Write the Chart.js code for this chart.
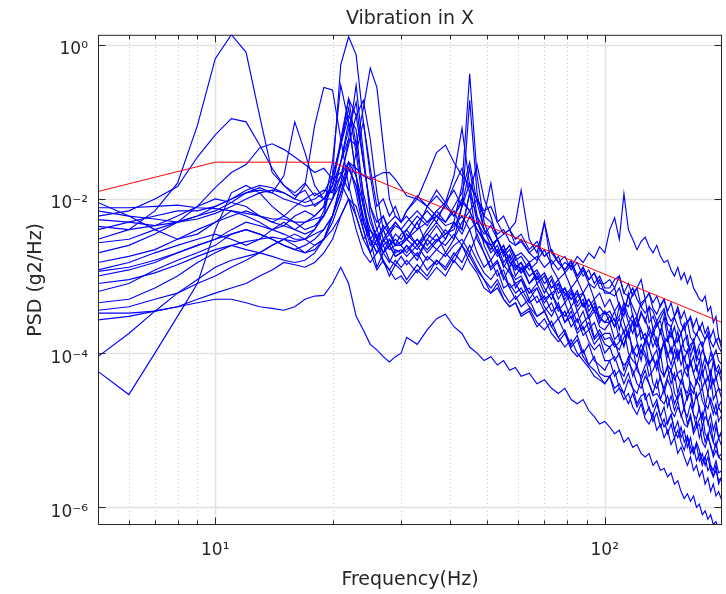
<!DOCTYPE html>
<html><head><meta charset="utf-8">
<script src="https://cdn.jsdelivr.net/npm/chart.js"></script>
<style>html,body{margin:0;padding:0;background:#fff;}canvas{display:block;}</style>
</head><body>
<canvas id="c" width="726" height="594"></canvas>
<script>
// Frequency grid (Hz)
const freqHz = [5,6,7,8,9,10,11,12,13,14,15,16,17,18,19,20,21,22,23,24,25,26,27,28,29,30,
31,33,35,37,39,41,43,45,47,49,51,53,55,57,59,
61,64,67,70,73,76,79,82,85,88,91,94,97,100,
103,106,109,112,115,118,121,124,127,130,133,136,139,142,145,148,151,154,157,160,163,166,169,172,175,178,181,184,187,190,193,196,200];

// PSD runs (g2/Hz)
const psd01 = [3e-3,4e-3,7e-3,1.6e-2,9e-2,0.66,1.35,0.8,0.12,2.2e-2,1.5e-2,1.2e-2,1.6e-2,1.1e-2,1.3e-2,1.2e-2,3e-2,0.1,2e-2,5e-3,3e-3,4e-3,6e-3,3.5e-3,4.5e-3,4e-3,
3e-3,5e-3,2.5e-3,3.5e-3,2e-3,3e-3,8e-3,2.5e-2,6e-3,2.5e-3,1.6e-3,2.2e-3,1.3e-3,1.8e-3,1e-3,
1.3e-3,8e-4,1e-3,6e-4,9e-4,5e-4,7e-4,4e-4,5.5e-4,6e-4,3.5e-4,4.5e-4,2.5e-4,3.5e-4,
3e-4,2.2e-4,4e-4,2.5e-4,1.6e-4,2.5e-4,3e-4,1.5e-4,1.8e-4,1.2e-4,2e-4,1.4e-4,9e-5,1.5e-4,1e-4,7e-5,1.1e-4,8e-5,1.2e-4,6e-5,5e-5,8e-5,5.5e-5,4e-5,6e-5,3.5e-5,4.5e-5,3e-5,5e-5,2.5e-5,3e-5,2e-5,2.5e-5];
const psd02 = [6e-3,7e-3,1e-2,1.45e-2,3.5e-2,6.8e-2,0.11,0.1,5e-2,2.5e-2,1.5e-2,1.1e-2,1.3e-2,8e-3,1e-2,1e-2,1.6e-2,6e-2,0.3,4e-2,6e-3,3e-3,2e-3,3e-3,2.5e-3,2.5e-3,
3.5e-3,2.5e-3,4e-3,6e-3,5e-3,7e-3,4e-3,1.2e-2,3e-3,2e-3,1.2e-3,1.5e-3,9e-4,1.3e-3,7e-4,
9e-4,5e-4,7e-4,4e-4,3e-4,4.5e-4,2.5e-4,3.5e-4,2e-4,2.5e-4,3e-4,1.6e-4,2e-4,1.5e-4,
1.6e-4,1.2e-4,1.4e-4,2e-4,1e-4,8e-5,7e-5,1.1e-4,9e-5,5e-5,6e-5,8e-5,4.5e-5,3.5e-5,5e-5,6e-5,3e-5,2.5e-5,3.5e-5,2e-5,2.8e-5,3e-5,1.6e-5,1.4e-5,2e-5,1.1e-5,1.5e-5,1.3e-5,9e-6,7e-6,1.1e-5,8e-6,9e-6];
const psd03 = [2e-3,2.5e-3,3.5e-3,5e-3,8e-3,1.4e-2,2.2e-2,2.8e-2,4.6e-2,5.2e-2,4.4e-2,3.5e-2,2.8e-2,2.2e-2,2.5e-2,1.8e-2,2.2e-2,1.3e-2,4e-2,0.1,2.5e-2,8e-3,1e-2,6e-3,8e-3,5e-3,
7e-3,1.1e-2,8e-3,1.3e-2,9e-3,6e-3,1e-2,7e-3,4e-3,3e-3,2.2e-3,3e-3,2e-3,2.5e-3,1.6e-3,
1.8e-3,1.2e-3,1.5e-3,5e-3,1.3e-3,9e-4,1.1e-3,7e-4,9e-4,6e-4,8e-4,5e-4,6e-4,4e-4,
5e-4,3.5e-4,4.5e-4,3e-4,6e-4,3e-4,2.2e-4,3.5e-4,2.5e-4,4e-4,2e-4,2.6e-4,1.8e-4,3e-4,1.5e-4,2.2e-4,1.3e-4,1.9e-4,1.1e-4,1.5e-4,1.7e-4,9e-5,1.2e-4,8e-5,1.1e-4,6.5e-5,9e-5,7e-5,5e-5,8e-5,4.5e-5,6e-5,4e-5];
const psd04 = [9e-3,6e-3,4e-3,3e-3,3.5e-3,5e-3,7e-3,6e-3,5e-3,4e-3,4.5e-3,6e-3,7e-3,6e-3,8e-3,1.5e-2,5e-2,0.15,4e-2,8e-3,3e-3,1.3e-3,2e-3,2.5e-3,1.8e-3,2e-3,
2.5e-3,1.6e-3,3e-3,2.2e-3,3e-3,5e-3,4e-3,1.2e-2,2.8e-2,1e-2,6e-3,3e-3,2e-3,1.3e-3,1.8e-3,
1.1e-3,1.5e-3,8e-4,1e-3,6e-4,7e-4,5e-4,6.5e-4,4e-4,5e-4,3e-4,4e-4,2.8e-4,2.5e-4,
2.5e-4,2.8e-4,1.5e-4,1.3e-4,2e-4,2.6e-4,1.4e-4,1e-4,1.5e-4,1.2e-4,8e-5,7e-5,1.1e-4,1.3e-4,7e-5,6e-5,8e-5,5e-5,4e-5,6e-5,7e-5,3.5e-5,3e-5,4.5e-5,3.8e-5,2.4e-5,2e-5,3e-5,2.2e-5,1.6e-5,2.2e-5,1.3e-5,1.6e-5];
const psd05 = [7.7e-3,7.7e-3,8e-3,8.3e-3,7.7e-3,7.5e-3,7e-3,6.5e-3,6e-3,5.5e-3,5.5e-3,5e-3,5e-3,5.5e-3,6e-3,2e-2,0.55,1.27,0.74,0.1,2e-2,6e-3,3e-3,4e-3,2.5e-3,3.5e-3,
4e-3,6e-3,4.5e-3,7e-3,5e-3,8e-3,1.2e-2,3e-2,9e-3,4e-3,3e-3,2e-3,2.5e-3,1.5e-3,1.2e-3,
1.5e-3,8e-4,1.1e-3,7e-4,5e-4,8e-4,4.5e-4,6e-4,3.5e-4,4.5e-4,2.8e-4,3.5e-4,2.2e-4,2e-4,
2.5e-4,1.5e-4,1.8e-4,1.2e-4,2e-4,1e-4,1.3e-4,8e-5,1.5e-4,7e-5,9e-5,6e-5,1e-4,5e-5,6.5e-5,4e-5,5.5e-5,3e-5,4.5e-5,3.5e-5,2.5e-5,3.5e-5,2e-5,3e-5,1.8e-5,1.4e-5,2e-5,1.2e-5,1.6e-5,1e-5,1.3e-5,8e-6,1e-5];
const psd06 = [5.4e-3,5e-3,4.5e-3,5e-3,6e-3,8e-3,1e-2,1.3e-2,1.5e-2,1.4e-2,1.2e-2,1e-2,1.5e-2,9e-2,0.28,0.26,6e-2,1.5e-2,6e-3,3e-3,4e-3,2.5e-3,4e-3,5e-3,6e-3,5e-3,
7e-3,1e-2,8e-3,6e-3,4.5e-3,5e-3,3.5e-3,6e-3,4e-3,2.8e-3,2.5e-3,1.8e-3,2.2e-3,1.2e-3,9e-4,
1e-3,6e-4,8e-4,5e-4,6e-4,3.5e-4,4.5e-4,2.8e-4,3.5e-4,2e-4,2.5e-4,1.5e-4,1.8e-4,1.3e-4,
1.2e-4,1.4e-4,9e-5,7e-5,8e-5,1.2e-4,6e-5,5e-5,7e-5,8e-5,4e-5,3.5e-5,5e-5,3e-5,4.5e-5,3.5e-5,2.2e-5,2.8e-5,3e-5,1.8e-5,1.5e-5,2.2e-5,1.6e-5,1.1e-5,1.4e-5,1.7e-5,9e-6,8e-6,1.2e-5,7e-6,6e-6,8e-6,6e-6];
const psd07 = [4.4e-3,4e-3,4.5e-3,6e-3,8e-3,1e-2,9e-3,8e-3,6e-3,5e-3,4.5e-3,4e-3,5e-3,6e-3,8e-3,3e-2,0.3,0.1,2e-2,5e-3,3e-3,2.5e-3,1.5e-3,1.2e-3,1.6e-3,1.3e-3,
1.6e-3,1.1e-3,1.8e-3,1.4e-3,2e-3,1.5e-3,2.5e-3,1.8e-3,1.2e-3,9e-4,7e-4,9e-4,6e-4,4.5e-4,5.5e-4,
4e-4,5e-4,3e-4,3.5e-4,2.2e-4,2.8e-4,1.8e-4,1.3e-4,1.7e-4,1e-4,1.3e-4,8e-5,7e-5,6e-5,
8e-5,5e-5,6e-5,4e-5,5.5e-5,3.5e-5,3e-5,4.5e-5,2.5e-5,3e-5,2e-5,2.5e-5,1.5e-5,2e-5,1.2e-5,1.6e-5,1e-5,1.3e-5,8e-6,1e-5,6e-6,8e-6,5e-6,6.5e-6,4e-6,5e-6,3.5e-6,4.5e-6,3e-6,2.5e-6,3.5e-6,2e-6,2.5e-6];
const psd08 = [2.7e-3,3e-3,4e-3,5e-3,6e-3,7e-3,9e-3,1.2e-2,1.4e-2,1.2e-2,2e-2,0.1,4e-2,1.5e-2,1e-2,1.5e-2,6e-2,0.2,5e-2,1.2e-2,5e-3,3e-3,4.5e-3,3.5e-3,5e-3,4e-3,
3e-3,5e-3,7e-3,5e-3,9e-3,1.3e-2,8e-3,1.6e-2,1e-2,6e-3,5e-3,3.5e-3,4e-3,2.8e-3,2.5e-3,
3e-3,2e-3,1.6e-3,2.2e-3,1.4e-3,1.8e-3,1.1e-3,1.4e-3,9e-4,1.2e-3,8e-4,7e-4,9e-4,6e-4,
6e-4,7e-4,4e-4,3.5e-4,5.5e-4,4e-4,3e-4,4.5e-4,5e-4,2.5e-4,3e-4,2.2e-4,2.8e-4,3.5e-4,2e-4,1.6e-4,2.2e-4,1.4e-4,1.8e-4,2.4e-4,1.3e-4,1.1e-4,1.5e-4,1e-4,1.3e-4,1.4e-4,8e-5,7e-5,1e-4,8e-5,6e-5,7e-5,5e-5];
const psd09 = [1.5e-3,1.8e-3,2.2e-3,3e-3,4e-3,5e-3,6e-3,7e-3,6e-3,5e-3,6e-3,8e-3,1e-2,1.2e-2,1e-2,1.5e-2,3e-2,6e-2,5e-2,0.15,0.5,0.28,5e-2,1e-2,6e-3,5e-3,
6e-3,4e-3,8e-3,1.1e-2,8e-3,1.5e-2,2.5e-2,1.2e-2,6e-3,4e-3,3e-3,2e-3,2.5e-3,1.5e-3,1.3e-3,
1.1e-3,1.4e-3,9e-4,1.1e-3,7e-4,9e-4,5.5e-4,7e-4,4.5e-4,6e-4,4e-4,5e-4,3e-4,3.5e-4,
2.5e-4,3.5e-4,2e-4,4e-4,2.5e-4,1.8e-4,2.8e-4,2e-4,1.4e-4,2.2e-4,1.6e-4,1.2e-4,2e-4,1.3e-4,1.6e-4,1e-4,1.4e-4,9e-5,1.2e-4,8e-5,1.1e-4,7e-5,9e-5,6e-5,8e-5,5e-5,7e-5,4.5e-5,6e-5,4e-5,5e-5,3.5e-5,3.2e-5];
const psd10 = [1.2e-3,1.5e-3,2e-3,2.5e-3,3e-3,3.5e-3,3e-3,2.5e-3,3e-3,4e-3,5e-3,4e-3,3.5e-3,4e-3,6e-3,1e-2,2e-2,5e-2,0.12,0.19,6e-2,1.2e-2,4e-3,2.5e-3,3e-3,2.5e-3,
2e-3,3e-3,2.2e-3,3e-3,2.5e-3,3.5e-3,2.5e-3,4e-3,2e-3,1.3e-3,1.6e-3,1e-3,1.2e-3,7e-4,5e-4,
6e-4,4e-4,3e-4,3.5e-4,2.2e-4,1.6e-4,2e-4,1.2e-4,1.5e-4,9e-5,7e-5,9e-5,5.5e-5,5e-5,
5e-5,6e-5,3.5e-5,3e-5,4.5e-5,3.5e-5,2.2e-5,2.8e-5,3e-5,1.8e-5,1.6e-5,2.2e-5,1.5e-5,1.1e-5,1.3e-5,1.6e-5,1e-5,8e-6,1.1e-5,7e-6,8.5e-6,6e-6,5e-6,7e-6,5.5e-6,4e-6,4.5e-6,5.5e-6,3.5e-6,3e-6,4e-6,2.8e-6,3e-6];
const psd11 = [1.15e-3,1.3e-3,1.6e-3,2e-3,2.5e-3,3e-3,4e-3,5e-3,4.5e-3,4e-3,3.5e-3,3e-3,3e-3,4e-3,7e-3,2e-2,5e-2,0.12,8e-2,1e-2,3e-3,2e-3,2.5e-3,1.6e-3,1.4e-3,1.8e-3,
1.4e-3,2e-3,1.2e-3,1.6e-3,1.3e-3,2e-3,1.5e-3,2.5e-3,1.6e-3,1.1e-3,9e-4,1.2e-3,7e-4,8e-4,6e-4,
7e-4,4.5e-4,5.5e-4,3.5e-4,4.5e-4,2.8e-4,3.5e-4,2.2e-4,2.8e-4,1.7e-4,2e-4,1.3e-4,1.6e-4,1e-4,
1.2e-4,8e-5,1e-4,6e-5,9e-5,5e-5,7e-5,4.5e-5,6e-5,4e-5,3e-5,4.5e-5,2.5e-5,3.5e-5,2e-5,2.8e-5,1.8e-5,2.4e-5,1.5e-5,2e-5,1.2e-5,1.6e-5,1e-5,1.3e-5,8e-6,1.1e-5,7e-6,9e-6,6e-6,5e-6,7e-6,4.5e-6,5e-6];
const psd12 = [6.3e-4,8e-4,1.2e-3,1.6e-3,2e-3,2.5e-3,3.5e-3,4e-3,3.5e-3,3e-3,2.5e-3,2.2e-3,2.5e-3,3e-3,4e-3,6e-3,1.2e-2,3e-2,2e-2,8e-3,4e-3,3e-3,2e-3,2.5e-3,1.8e-3,2e-3,
2.5e-3,1.8e-3,3e-3,4.5e-3,3e-3,5e-3,1.5e-2,0.42,2e-2,5e-3,3e-3,2e-3,1.4e-3,1.1e-3,8e-4,
9e-4,6e-4,7e-4,4.5e-4,6e-4,4e-4,3e-4,4e-4,2.5e-4,3.5e-4,2e-4,2.5e-4,1.6e-4,1.8e-4,
1.8e-4,1.3e-4,1.1e-4,1.6e-4,1.9e-4,1.1e-4,9e-5,1.3e-4,1e-4,7e-5,9e-5,1.1e-4,6e-5,5e-5,7e-5,6e-5,4.5e-5,5.5e-5,6e-5,3.5e-5,3e-5,4.2e-5,3.5e-5,2.6e-5,3e-5,3.5e-5,2.2e-5,1.9e-5,2.6e-5,2e-5,1.6e-5,2e-5,1.6e-5];
const psd13 = [4.5e-4,5e-4,7e-4,1e-3,1.5e-3,2e-3,2.5e-3,2.2e-3,2e-3,2.5e-3,3e-3,3.5e-3,3e-3,2.5e-3,3e-3,5e-3,1e-2,2.5e-2,1.5e-2,5e-3,2.5e-3,3.5e-3,2e-3,1.5e-3,2.2e-3,2e-3,
2.2e-3,3e-3,2e-3,2.8e-3,3.5e-3,4e-3,8e-3,0.19,1.2e-2,4e-3,2.5e-3,3e-3,1.8e-3,2.2e-3,1.4e-3,
1.2e-3,1.5e-3,9e-4,1.1e-3,7e-4,8e-4,6e-4,5e-4,6.5e-4,4e-4,5e-4,3.5e-4,3e-4,2.5e-4,
3e-4,2.2e-4,2.8e-4,1.8e-4,2.4e-4,3.2e-4,1.6e-4,2e-4,1.4e-4,1.8e-4,1.2e-4,1.6e-4,1e-4,1.4e-4,9e-5,1.2e-4,8e-5,1.1e-4,7e-5,9e-5,6e-5,8e-5,5.5e-5,7e-5,4.5e-5,6e-5,4e-5,5e-5,3.5e-5,4.5e-5,3e-5,3.5e-5,2.5e-5];
const psd14 = [3.6e-4,4e-4,5e-4,6e-4,8e-4,1e-3,1.3e-3,1.6e-3,2e-3,2.5e-3,3e-3,2.5e-3,2e-3,2.2e-3,3e-3,6e-3,1.6e-2,1e-2,4e-3,2e-3,1.5e-3,2e-3,2.8e-3,3.5e-3,2.5e-3,2.5e-3,
3e-3,4e-3,5e-3,7e-3,9e-3,2e-2,8.3e-2,1.5e-2,5e-3,3e-3,2e-3,2.5e-3,1.5e-3,1.9e-3,1.3e-3,
1.5e-3,1e-3,1.2e-3,8e-4,1e-3,6e-4,7e-4,5e-4,6e-4,4e-4,5e-4,3.5e-4,4e-4,3.2e-4,
3.5e-4,2.6e-4,3e-4,4.5e-4,3e-4,2.5e-4,2.2e-4,3.2e-4,2.8e-4,1.9e-4,1.7e-4,2.4e-4,2.6e-4,1.6e-4,1.4e-4,1.9e-4,1.3e-4,1.5e-4,1.8e-4,1.1e-4,1e-4,1.3e-4,1.4e-4,9e-5,8e-5,1.1e-4,9e-5,7e-5,8e-5,9e-5,6e-5,5.5e-5,5.5e-5];
const psd15 = [3.3e-4,3.3e-4,3.5e-4,4e-4,5e-4,6e-4,7e-4,8e-4,1e-3,1.2e-3,1.5e-3,1.4e-3,1.3e-3,1.5e-3,2e-3,3e-3,6e-3,1e-2,6e-3,3e-3,2e-3,3e-3,1.6e-3,1.2e-3,9e-4,1e-3,
8e-4,1.2e-3,9e-4,1.3e-3,1e-3,1.6e-3,1.2e-3,2e-3,1.3e-3,9e-4,6e-4,7e-4,5e-4,4e-4,4.5e-4,
3.2e-4,3.8e-4,2.5e-4,2e-4,2.6e-4,1.6e-4,1.2e-4,1.5e-4,1e-4,8e-5,6.5e-5,5e-5,4.5e-5,4e-5,
5e-5,3.5e-5,4e-5,3e-5,2.2e-5,3e-5,2e-5,2.5e-5,1.6e-5,2e-5,1.3e-5,1.7e-5,1.1e-5,1.4e-5,9e-6,1.2e-5,8e-6,1e-5,7e-6,5.5e-6,8e-6,5e-6,6e-6,4e-6,5e-6,3.5e-6,4.5e-6,3e-6,3.5e-6,2.5e-6,3e-6,2.2e-6,2.5e-6];
const psd16 = [2.7e-4,3e-4,3.5e-4,4e-4,4.5e-4,5e-4,5e-4,4.5e-4,4e-4,3.8e-4,3.6e-4,4e-4,5e-4,5.5e-4,5.6e-4,8e-4,1.3e-3,8e-4,3e-4,2e-4,1.3e-4,1.1e-4,9e-5,7.7e-5,9e-5,1e-4,
1.6e-4,1.3e-4,2e-4,2.8e-4,3.2e-4,2.2e-4,1.8e-4,1.2e-4,1e-4,8e-5,9e-5,7e-5,8e-5,6e-5,6.5e-5,
5e-5,5.5e-5,4e-5,4.5e-5,3.5e-5,3e-5,3.5e-5,2.5e-5,2.2e-5,2.5e-5,1.8e-5,1.5e-5,1.2e-5,1.3e-5,
1.1e-5,9e-6,1e-5,7e-6,8e-6,6e-6,6.5e-6,5e-6,4.5e-6,5e-6,3.5e-6,4e-6,3e-6,3.2e-6,2.5e-6,2.8e-6,2e-6,2.2e-6,1.6e-6,1.3e-6,1.5e-6,1.2e-6,1.4e-6,1e-6,1.1e-6,8e-7,9e-7,7e-7,8e-7,6e-7,6.5e-7,5e-7,5e-7];
const psd17 = [9e-5,1.8e-4,3.5e-4,6e-4,9e-4,1.3e-3,1.6e-3,1.8e-3,2e-3,1.8e-3,1.6e-3,1.5e-3,1.6e-3,2e-3,3e-3,6e-3,1.5e-2,3e-2,1.2e-2,4e-3,2e-3,1.2e-3,1.6e-3,1e-3,1.4e-3,1.2e-3,
9e-4,1.4e-3,1e-3,1.6e-3,1.2e-3,1.8e-3,2.5e-3,1.5e-3,1.1e-3,7e-4,6e-4,8e-4,5e-4,4e-4,4.5e-4,
3e-4,3.5e-4,2.2e-4,2.8e-4,1.8e-4,1.4e-4,1.8e-4,1.1e-4,9e-5,1.1e-4,7e-5,6e-5,5e-5,4e-5,
5e-5,3e-5,3.5e-5,2.5e-5,3e-5,2e-5,1.6e-5,2.2e-5,1.4e-5,1.2e-5,1.6e-5,1e-5,1.2e-5,8e-6,1e-5,6.5e-6,8e-6,5e-6,6e-6,4.5e-6,3.5e-6,4.5e-6,3e-6,3.5e-6,2.5e-6,3e-6,2e-6,2.4e-6,1.6e-6,2e-6,1.4e-6,1.6e-6,1.2e-6];
const psd18 = [5.8e-5,2.9e-5,1e-4,3e-4,8e-4,4e-3,1.2e-2,1.5e-2,1.2e-2,8e-3,6e-3,5e-3,4e-3,4.5e-3,6e-3,1e-2,3e-2,8e-2,0.18,3e-2,8e-3,4e-3,2.5e-3,3e-3,2e-3,2.2e-3,
1.8e-3,2.5e-3,1.6e-3,2.2e-3,1.8e-3,2.5e-3,3e-3,2e-3,3.5e-3,2e-3,1.3e-3,1.6e-3,1e-3,7e-4,8e-4,
6e-4,7e-4,4.5e-4,5.5e-4,3.5e-4,4e-4,2.5e-4,3e-4,1.8e-4,2.2e-4,1.4e-4,1.1e-4,1.3e-4,8e-5,
8e-5,9e-5,6e-5,5e-5,7.5e-5,6e-5,4e-5,3.5e-5,5e-5,4e-5,2.8e-5,3e-5,2.5e-5,2.2e-5,2.8e-5,1.8e-5,1.5e-5,2e-5,1.6e-5,1.2e-5,1.1e-5,1.5e-5,9e-6,1.1e-5,1.2e-5,7e-6,6e-6,8e-6,6.5e-6,4.5e-6,5.5e-6,4.5e-6,4e-6];
const psd19 = [4e-3,5e-3,6e-3,7e-3,7e-3,8e-3,1e-2,1.2e-2,1.3e-2,1.2e-2,1e-2,9e-3,8e-3,8.5e-3,1e-2,1.3e-2,2e-2,3e-2,2.5e-2,2e-2,1.8e-2,2e-2,2.2e-2,2.2e-2,1.8e-2,1.4e-2,
1.1e-2,1e-2,2e-2,4e-2,5e-2,3e-2,2e-2,1.5e-2,1e-2,7e-3,8e-3,5e-3,6e-3,4e-3,3e-3,
3.5e-3,2.2e-3,2.8e-3,1.8e-3,2.2e-3,1.5e-3,1.2e-3,1.6e-3,1e-3,1.3e-3,9e-4,1.1e-3,8e-4,8e-4,
9e-4,7e-4,1e-3,6e-4,8e-4,5.5e-4,7e-4,9e-4,5e-4,6e-4,4.5e-4,5.5e-4,4e-4,5e-4,3.5e-4,4.5e-4,3e-4,4e-4,2.8e-4,3.5e-4,2.5e-4,3e-4,2.2e-4,2.8e-4,2e-4,2.5e-4,1.8e-4,2.2e-4,1.6e-4,2e-4,1.4e-4,1.6e-4,1.3e-4];
const psd20 = [1e-3,1.2e-3,1.5e-3,2e-3,2.5e-3,3e-3,3.5e-3,4e-3,3.5e-3,3e-3,2.5e-3,2.2e-3,2e-3,2.5e-3,3e-3,4e-3,6e-3,1e-2,8e-3,4e-3,2e-3,3e-3,4e-3,2.5e-3,3.5e-3,3e-3,
4e-3,2.5e-3,3.5e-3,5e-3,3.5e-3,4.5e-3,6e-3,4e-3,5e-3,3.5e-3,4.5e-3,3e-3,3.5e-3,4e-3,5e-3,
1.3e-2,3e-3,2e-3,5e-3,2e-3,1.5e-3,1.8e-3,1.2e-3,1.5e-3,1e-3,1.2e-3,8e-4,1e-3,7e-4,
7e-4,9e-4,1e-3,6e-4,5.5e-4,7e-4,5e-4,4e-4,5e-4,6e-4,3.8e-4,3.2e-4,4.2e-4,5e-4,3.2e-4,2.6e-4,3e-4,3.6e-4,2.4e-4,2e-4,2.5e-4,2.8e-4,1.9e-4,1.7e-4,2.2e-4,1.8e-4,1.5e-4,1.9e-4,1.4e-4,1.2e-4,1.5e-4,1.2e-4,1e-4];
const psd21 = [8e-4,9e-4,1.1e-3,1.4e-3,1.8e-3,2.2e-3,2.5e-3,2.8e-3,3e-3,3.2e-3,3e-3,2.8e-3,3e-3,3.5e-3,4e-3,6e-3,1.2e-2,2.5e-2,1.5e-2,6e-3,3e-3,2e-3,3e-3,2.2e-3,2.5e-3,2.8e-3,
3e-3,2.2e-3,3.5e-3,2.8e-3,4e-3,3e-3,5e-3,7e-3,4e-3,3e-3,2.5e-3,3e-3,2e-3,2.5e-3,1.8e-3,
2e-3,1.5e-3,1.8e-3,1.3e-3,1.6e-3,1.2e-3,1.5e-3,1.3e-3,1.8e-3,1.5e-3,2e-3,1.7e-3,2.4e-3,2e-3,
4e-3,5.7e-3,3e-3,1.17e-2,4e-3,3e-3,2.2e-3,2.8e-3,3.2e-3,2.4e-3,2e-3,2.5e-3,1.8e-3,1.5e-3,1.6e-3,1.2e-3,1e-3,1.3e-3,9e-4,1.1e-3,8e-4,1e-3,7e-4,6e-4,5e-4,4.7e-4,5.5e-4,3.5e-4,4e-4,2.5e-4,3e-4,1.6e-4,1.1e-4];
const psd22 = [7e-3,6e-3,5.5e-3,5e-3,5.5e-3,6.5e-3,8e-3,1e-2,1.2e-2,1.3e-2,1.2e-2,1e-2,9e-3,1e-2,1.2e-2,2e-2,5e-2,0.2,0.12,3e-2,8e-3,5e-3,6e-3,4e-3,5e-3,4e-3,
5e-3,7e-3,5e-3,6e-3,8e-3,6e-3,9e-3,7e-3,1e-2,6e-3,1.6e-2,5e-3,3.5e-3,4e-3,2.5e-3,
2.8e-3,2e-3,2.5e-3,1.8e-3,2.2e-3,1.5e-3,1.2e-3,1.5e-3,1e-3,1.3e-3,9e-4,1.1e-3,7e-4,6.5e-4,
6e-4,5.5e-4,7e-4,4.5e-4,4e-4,6e-4,7e-4,4e-4,3.3e-4,4e-4,3.5e-4,2.6e-4,3.2e-4,3.8e-4,2.4e-4,2.2e-4,2.9e-4,2.2e-4,1.8e-4,2.3e-4,2.6e-4,1.6e-4,1.4e-4,1.8e-4,1.5e-4,1.2e-4,1.5e-4,1.7e-4,1.1e-4,9e-5,1.1e-4,8e-5,7e-5];

// Specification (red) line
const specFreq = [5, 10, 20, 200];
const specPsd = [0.0125, 0.03, 0.03, 0.00025];

// Axis ticks
const xTickValues = [10, 100];
const xTickLabels = ['10¹', '10²'];
const xMinorValues = [6, 7, 8, 9, 20, 30, 40, 50, 60, 70, 80, 90];
const yTickValues = [1e-6, 1e-4, 1e-2, 1];
const yTickLabels = ['10⁻⁶', '10⁻⁴', '10⁻²', '10⁰'];

const runs = [psd01,psd02,psd03,psd04,psd05,psd06,psd07,psd08,psd09,psd10,psd11,psd12,psd13,psd14,psd15,psd16,psd17,psd18,psd19,psd20,psd21,psd22];

const FONT = '"DejaVu Sans", "Liberation Sans", Arial, sans-serif';
const TXT = '#262626';

const datasets = [{
  label: 'Spec', data: specFreq.map((f, i) => ({x: f, y: specPsd[i]})),
  borderColor: '#ff0000', borderWidth: 1, pointRadius: 0, tension: 0
}];
runs.forEach((s, k) => datasets.push({
  label: 'Run ' + (k + 1), data: freqHz.map((f, i) => ({x: f, y: s[i]})),
  borderColor: '#0000ff', borderWidth: 1.15, pointRadius: 0, tension: 0
}));

const matlabAxes = {
  id: 'matlabAxes',
  beforeDatasetsDraw(chart) {
    const {ctx, chartArea: a, scales: {x, y}} = chart;
    ctx.save();
    ctx.lineWidth = 1;
    ctx.strokeStyle = '#c2c2c2';
    ctx.setLineDash([1, 3]);
    xMinorValues.forEach(v => {
      const px = Math.round(x.getPixelForValue(v)) + 0.5;
      ctx.beginPath(); ctx.moveTo(px, a.top); ctx.lineTo(px, a.bottom); ctx.stroke();
    });
    ctx.setLineDash([]);
    ctx.strokeStyle = '#e2e2e2';
    ctx.lineWidth = 1.5;
    xTickValues.forEach(v => {
      const px = Math.round(x.getPixelForValue(v)) + 0.5;
      ctx.beginPath(); ctx.moveTo(px, a.top); ctx.lineTo(px, a.bottom); ctx.stroke();
    });
    yTickValues.forEach(v => {
      const py = Math.round(y.getPixelForValue(v)) + 0.5;
      ctx.beginPath(); ctx.moveTo(a.left, py); ctx.lineTo(a.right, py); ctx.stroke();
    });
    ctx.restore();
  },
  afterDatasetsDraw(chart) {
    const {ctx, chartArea: a, scales: {x, y}} = chart;
    ctx.save();
    ctx.strokeStyle = TXT;
    ctx.lineWidth = 1;
    const L = a.left + 0.5, R = a.right - 0.5, T = a.top + 0.5, B = a.bottom - 0.5;
    ctx.beginPath();
    const vTick = (v, len) => {
      const px = Math.round(x.getPixelForValue(v)) + 0.5;
      ctx.moveTo(px, B); ctx.lineTo(px, B - len);
      ctx.moveTo(px, T); ctx.lineTo(px, T + len);
    };
    xMinorValues.forEach(v => vTick(v, 4));
    xTickValues.forEach(v => vTick(v, 7));
    yTickValues.forEach(v => {
      const py = Math.round(y.getPixelForValue(v)) + 0.5;
      ctx.moveTo(L, py); ctx.lineTo(L + 7, py);
      ctx.moveTo(R, py); ctx.lineTo(R - 7, py);
    });
    ctx.stroke();
    ctx.strokeRect(L, T, R - L, B - T);
    ctx.restore();
  }
};

new Chart(document.getElementById('c'), {
  type: 'line',
  data: {datasets},
  plugins: [matlabAxes],
  options: {
    responsive: false, animation: false, devicePixelRatio: 1,
    layout: {padding: {left: 0, right: 4, top: 0, bottom: 0}},
    plugins: {
      legend: {display: false}, tooltip: {enabled: false},
      title: {display: true, text: 'Vibration in X', fullSize: false, color: TXT,
        font: {family: FONT, size: 19, weight: 'normal'}, padding: {top: 8, bottom: 4}}
    },
    scales: {
      x: {
        type: 'logarithmic', min: 5, max: 200,
        grid: {display: false, drawTicks: false}, border: {display: false},
        afterBuildTicks: s => { s.ticks = xTickValues.map(v => ({value: v, major: true})); },
        afterFit: s => { s.height = 69; },
        ticks: {autoSkip: false, maxRotation: 0, minRotation: 0, padding: 15, color: TXT,
          font: {family: FONT, size: 17}, callback: (v, i) => xTickLabels[i]},
        title: {display: true, text: 'Frequency(Hz)', color: TXT,
          font: {family: FONT, size: 19}, padding: {top: 0, bottom: 3}}
      },
      y: {
        type: 'logarithmic', min: 5.89e-7, max: 1.348,
        grid: {display: false, drawTicks: false}, border: {display: false},
        afterBuildTicks: s => { s.ticks = yTickValues.map(v => ({value: v, major: true})); },
        afterFit: s => { s.width = 98; },
        ticks: {autoSkip: false, padding: 10, labelOffset: 5, color: TXT,
          font: {family: FONT, size: 17}, callback: (v, i) => yTickLabels[i]},
        title: {display: true, text: 'PSD (g2/Hz)', color: TXT,
          font: {family: FONT, size: 19}, padding: {top: 25, bottom: 0}}
      }
    }
  }
});
</script>
</body></html>
